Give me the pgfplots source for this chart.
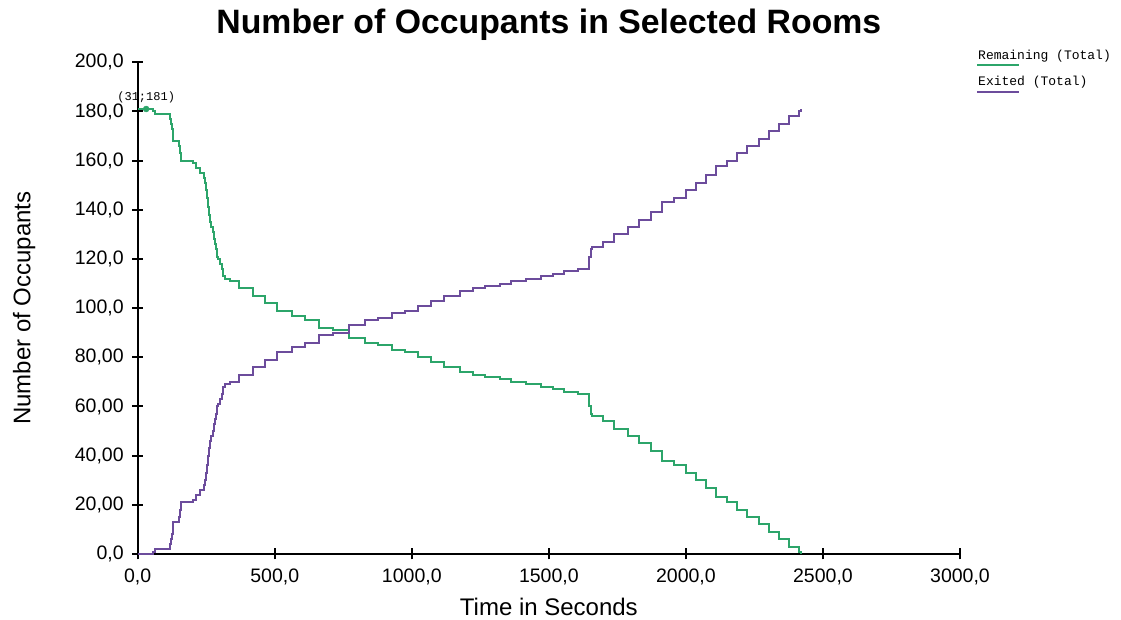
\documentclass[border=0pt]{standalone}
\usepackage{pgfplots}
\pgfplotsset{compat=1.18}
\usepackage{pgfplotstable}
\usepackage{fontspec}
\setmainfont{Liberation Sans}
\newfontfamily\monofont{Liberation Mono}

\definecolor{remgreen}{RGB}{44,165,106}
\definecolor{exitpurple}{RGB}{108,76,156}

% occupants still inside the selected rooms (step data, seconds)
\pgfplotstableread{
t v
0 181
57 180
62 179
118 177
121 175
124 173
127 170
130 168
150 166
154 163
157 160
202 159
212 157
226 155
241 153
245 151
249 148
253 145
257 141
261 138
265 135
269 133
273 131
277 128
281 126
285 124
289 121
293 120
300 118
308 116
313 113
317 112
335 111
370 108
420 105
465 102
508 99
563 97
611 95
660 92
714 91
770 88
830 86
878 85
927 83
975 82
1022 80
1069 78
1117 76
1175 74
1224 73
1266 72
1320 71
1363 70
1417 69
1472 68
1514 67
1557 66
1605 65
1647 60
1652 57
1657 56
1697 54
1739 51
1787 48
1830 45
1872 42
1914 38
1957 36
1999 33
2036 30
2072 27
2108 23
2151 21
2187 18
2224 15
2266 12
2302 9
2339 6
2375 3
2412 1
2420 0
}\remaining

% occupants that have left the selected rooms
\pgfplotstableread{
t v
0 0
57 1
62 2
118 4
121 6
124 8
127 11
130 13
150 15
154 18
157 21
202 22
212 24
226 26
241 28
245 30
249 33
253 36
257 40
261 43
265 46
269 48
273 50
277 53
281 55
285 57
289 60
293 61
300 63
308 65
313 68
317 69
335 70
370 73
420 76
465 79
508 82
563 84
611 86
660 89
714 90
770 93
830 95
878 96
927 98
975 99
1022 101
1069 103
1117 105
1175 107
1224 108
1266 109
1320 110
1363 111
1417 112
1472 113
1514 114
1557 115
1605 116
1647 121
1652 124
1657 125
1697 127
1739 130
1787 133
1830 136
1872 139
1914 143
1957 145
1999 148
2036 151
2072 154
2108 158
2151 160
2187 163
2224 166
2266 169
2302 172
2339 175
2375 178
2412 180
2420 181
}\exited

\begin{document}
\begin{tikzpicture}
\useasboundingbox (0,0) rectangle (1121pt,620pt);
\begin{axis}[
  at={(137.7pt,66pt)}, anchor=south west,
  scale only axis, width=822.3pt, height=491.7pt,
  xmin=0, xmax=3000, ymin=0, ymax=200,
  axis lines=left,
  axis line style={-, line width=2.2pt, black},
  xtick={0,500,1000,1500,2000,2500,3000},
  xticklabels={{0,0},{500,0},{1000,0},{1500,0},{2000,0},{2500,0},{3000,0}},
  ytick={0,20,40,60,80,100,120,140,160,180,200},
  yticklabels={{0,0},{20,00},{40,00},{60,00},{80,00},{100,0},{120,0},{140,0},{160,0},{180,0},{200,0}},
  tick align=center,
  major tick length=11pt,
  tick style={black, line width=2pt},
  ticklabel style={font=\fontsize{19.5}{22}\selectfont},
  xticklabel style={yshift=-6pt},
  yticklabel style={xshift=-5pt},
  xlabel={Time in Seconds},
  ylabel={Number of Occupants},
  xlabel style={font=\fontsize{24}{28}\selectfont, at={(axis description cs:0.5,-0.1078)}, anchor=center},
  ylabel style={font=\fontsize{24}{28}\selectfont, at={(axis description cs:-0.1380,0.5)}, anchor=center},
  title={Number of Occupants in Selected Rooms},
  title style={font=\bfseries\fontsize{33.8}{40}\selectfont, at={(axis description cs:0.5,1.0454)}, anchor=base},
  clip=false,
]
\addplot[const plot, color=remgreen, line width=2pt] table[x=t, y=v] {\remaining};
\addplot[const plot, color=exitpurple, line width=2pt] table[x=t, y=v] {\exited};
\addplot[only marks, mark=*, mark size=3pt, color=remgreen] coordinates {(31,181)}
  node[anchor=base, yshift=9pt, text=black, font=\monofont\fontsize{12}{14}\selectfont] {(31;181)};
\end{axis}
% legend
\node[anchor=base west, inner sep=0pt, font=\monofont\fontsize{13}{15}\selectfont] at (978pt,560.5pt) {Remaining (Total)};
\draw[remgreen, line width=2pt] (977pt,554.5pt) -- (1019pt,554.5pt);
\node[anchor=base west, inner sep=0pt, font=\monofont\fontsize{13}{15}\selectfont] at (978pt,534pt) {Exited (Total)};
\draw[exitpurple, line width=2pt] (977pt,528.3pt) -- (1019pt,528.3pt);
\end{tikzpicture}
\end{document}
